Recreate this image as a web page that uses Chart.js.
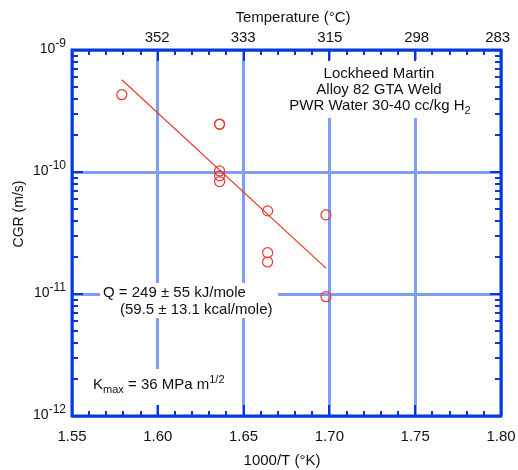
<!DOCTYPE html>
<html>
<head>
<meta charset="utf-8">
<script src="https://cdn.jsdelivr.net/npm/chart.js@4"></script>
<style>
  body { margin: 0; background: #fff; }
  canvas { display: block; }
</style>
</head>
<body>
<canvas id="cgrChart" width="518" height="470"></canvas>
<script>
// data (1000/T in 1/K, CGR in m/s)
const invTemp = [1.579, 1.636, 1.636, 1.636, 1.636, 1.636, 1.664, 1.664, 1.664, 1.698, 1.698];
const cgrValues = [4.3e-10, 2.46e-10, 2.47e-10, 1.02e-10, 9.3e-11, 8.35e-11, 4.8e-11, 2.18e-11, 1.83e-11, 4.45e-11, 9.5e-12];

// Arrhenius fit line end points
const fitInvTemp = [1.579, 1.698];
const fitCgr = [5.7e-10, 1.63e-11];

const xTicks = [1.55, 1.60, 1.65, 1.70, 1.75, 1.80];
const tempTicks = [352, 333, 315, 298, 283];   // deg C on the top axis
const yDecades = [1e-12, 1e-11, 1e-10, 1e-9];

const FONT = '"Liberation Sans", Arial, Helvetica, sans-serif';
const AXIS_BLUE = '#0538dc';
const GRID_BLUE = '#7f9ef0';
const RED = '#e8372c';
const INK = '#111';

// draws text made of parts with their own size and vertical shift (sub/superscripts)
function drawRich(ctx, parts, x, baseline, align) {
    let total = 0;
    parts.forEach(p => {
        ctx.font = p.size + 'px ' + FONT;
        p.w = ctx.measureText(p.t).width;
        total += p.w;
    });
    let cx = align === 'center' ? x - total / 2 : (align === 'right' ? x - total : x);
    ctx.textAlign = 'left';
    ctx.textBaseline = 'alphabetic';
    parts.forEach(p => {
        ctx.font = p.size + 'px ' + FONT;
        ctx.fillText(p.t, cx, baseline + (p.dy || 0));
        cx += p.w;
    });
}

// keep the plot area fixed: no extra room for overhanging tick labels
function noSidePadding(s) {
    s.paddingLeft = 0;
    s.paddingRight = 0;
}

const decorPlugin = {
    id: 'decor',
    beforeDatasetsDraw(chart) {
        const ctx = chart.ctx;
        ctx.save();
        // white backgrounds behind the notes hide the grid lines
        ctx.fillStyle = '#fff';
        ctx.fillRect(285, 60, 192, 58);
        ctx.fillRect(100, 283, 178, 35);
        ctx.fillRect(90, 369, 146, 36);

        ctx.fillStyle = INK;
        drawRich(ctx, [{t: 'Lockheed Martin', size: 15}], 379, 78, 'center');
        drawRich(ctx, [{t: 'Alloy 82 GTA Weld', size: 15}], 379, 94, 'center');
        drawRich(ctx, [{t: 'PWR Water 30-40 cc/kg H', size: 15}, {t: '2', size: 11, dy: 4}], 380, 109.5, 'center');

        drawRich(ctx, [{t: 'Q = 249 \u00b1 55 kJ/mole', size: 15}], 103, 297, 'left');
        drawRich(ctx, [{t: '(59.5 \u00b1 13.1 kcal/mole)', size: 15}], 120, 314, 'left');

        drawRich(ctx, [
            {t: 'K', size: 15},
            {t: 'max', size: 11, dy: 4},
            {t: ' = 36 MPa m', size: 15},
            {t: '1/2', size: 11, dy: -6}
        ], 93, 389, 'left');
        ctx.restore();
    },
    afterDraw(chart) {
        const ctx = chart.ctx;
        const area = chart.chartArea;
        const xs = chart.scales.x;
        const ys = chart.scales.y;
        ctx.save();

        // inward tick marks
        ctx.strokeStyle = AXIS_BLUE;
        ctx.lineWidth = 2;
        ctx.beginPath();
        for (let i = 0; i <= 25; i++) {
            const px = Math.round(xs.getPixelForValue(1.55 + i * 0.01));
            const len = i % 5 === 0 ? 11 : 5;
            ctx.moveTo(px, area.bottom);
            ctx.lineTo(px, area.bottom - len);
            ctx.moveTo(px, area.top);
            ctx.lineTo(px, area.top + len);
        }
        for (let d = -12; d <= -10; d++) {
            for (let m = 1; m <= 9; m++) {
                const py = Math.round(ys.getPixelForValue(m * Math.pow(10, d)));
                const len = m === 1 ? 11 : 6;
                ctx.moveTo(area.left, py);
                ctx.lineTo(area.left + len, py);
                ctx.moveTo(area.right, py);
                ctx.lineTo(area.right - len, py);
            }
        }
        ctx.stroke();

        // plot frame
        ctx.lineWidth = 3;
        ctx.strokeRect(area.left, area.top, area.right - area.left, area.bottom - area.top);

        // y tick labels as 10 with superscript exponent
        ctx.fillStyle = INK;
        yDecades.forEach(v => {
            const py = ys.getPixelForValue(v);
            const exp = Math.round(Math.log10(v));
            ctx.font = '12px ' + FONT;
            const supW = ctx.measureText(String(exp)).width;
            drawRich(ctx, [{t: '10', size: 14}], 66 - supW, py + 2.5, 'right');
            drawRich(ctx, [{t: String(exp), size: 12}], 66, py - 3.5, 'right');
        });

        // axis titles
        drawRich(ctx, [{t: 'Temperature (\u00b0C)', size: 15}], 293, 22, 'center');
        drawRich(ctx, [{t: '1000/T (\u00b0K)', size: 15}], 282, 465, 'center');
        ctx.translate(18, 214);
        ctx.rotate(-Math.PI / 2);
        drawRich(ctx, [{t: 'CGR (m/s)', size: 14}], 0, 5, 'center');
        ctx.restore();
    }
};

const ctx = document.getElementById('cgrChart').getContext('2d');
const cgrChart = new Chart(ctx, {
    type: 'scatter',
    data: {
        datasets: [
            {
                label: 'CGR',
                data: invTemp.map((x, i) => ({x: x, y: cgrValues[i]})),
                pointStyle: 'circle',
                pointRadius: 5,
                pointBorderWidth: 1.2,
                pointBorderColor: RED,
                pointBackgroundColor: 'rgba(0,0,0,0)',
                showLine: false
            },
            {
                label: 'fit',
                data: fitInvTemp.map((x, i) => ({x: x, y: fitCgr[i]})),
                showLine: true,
                borderColor: RED,
                borderWidth: 1.2,
                pointRadius: 0
            }
        ]
    },
    options: {
        responsive: false,
        animation: false,
        layout: { padding: { left: 0, right: 17, top: 0, bottom: 0 } },
        plugins: {
            legend: { display: false },
            tooltip: { enabled: false }
        },
        scales: {
            x: {
                type: 'linear',
                position: 'bottom',
                min: 1.55,
                max: 1.80,
                afterBuildTicks: s => { s.ticks = xTicks.map(v => ({value: v})); },
                afterFit: s => { s.height = 54; noSidePadding(s); },
                ticks: {
                    callback: v => v.toFixed(2),
                    font: { family: FONT, size: 15 },
                    color: INK,
                    padding: 12,
                    maxRotation: 0
                },
                grid: { color: GRID_BLUE, lineWidth: 3, drawTicks: false },
                border: { display: false }
            },
            x2: {
                type: 'linear',
                position: 'top',
                min: 1.55,
                max: 1.80,
                afterBuildTicks: s => { s.ticks = tempTicks.map(t => ({value: 1000 / (t + 273.15)})); },
                afterFit: s => { s.height = 50; noSidePadding(s); },
                ticks: {
                    callback: v => String(Math.round(1000 / v - 273.15)),
                    font: { family: FONT, size: 15 },
                    color: INK,
                    padding: 3,
                    maxRotation: 0
                },
                grid: { display: false, drawTicks: false },
                border: { display: false }
            },
            y: {
                type: 'logarithmic',
                min: 1e-12,
                max: 1e-9,
                afterBuildTicks: s => { s.ticks = yDecades.map(v => ({value: v})); },
                afterFit: s => { s.width = 72; },
                ticks: { display: false },
                grid: { color: GRID_BLUE, lineWidth: 3, drawTicks: false },
                border: { display: false }
            }
        }
    },
    plugins: [decorPlugin]
});
</script>
</body>
</html>
